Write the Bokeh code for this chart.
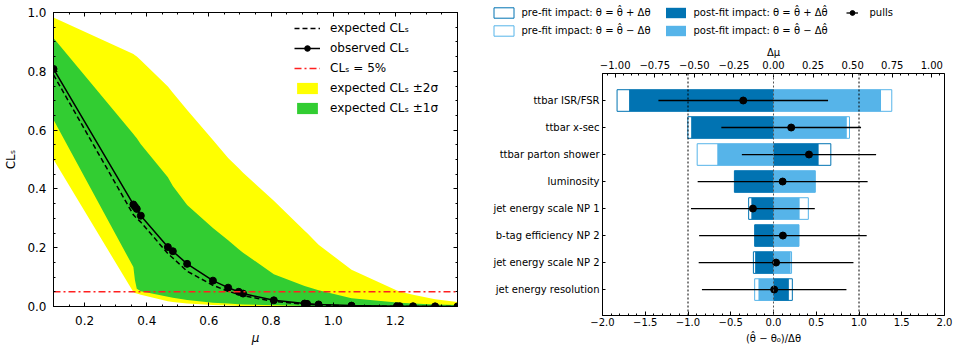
import numpy as np
from bokeh.plotting import figure
from bokeh.models import (Range1d, LinearAxis, FixedTicker, SingleIntervalTicker,
                          CustomJSTickFormatter, Legend, LegendItem, Span)
from bokeh.layouts import row, column
from bokeh.embed import file_html
from bokeh.resources import INLINE

FONT = "DejaVu Sans"

# ---------------- left panel data (CLs scan) ----------------
mu = [0.1, 0.357, 0.362, 0.368, 0.381, 0.468, 0.484, 0.530, 0.613, 0.662, 0.696,
      0.710, 0.809, 0.908, 0.916, 0.953, 1.059, 1.205, 1.214, 1.257, 1.328, 1.4]
observed = [0.808, 0.347, 0.340, 0.332, 0.309, 0.202, 0.188, 0.145, 0.088, 0.064, 0.050,
            0.044, 0.021, 0.010, 0.009, 0.007, 0.003, 0.001, 0.001, 0.001, 0.0005, 0.0003]
expected = [0.788, 0.312, 0.306, 0.300, 0.287, 0.180, 0.165, 0.120, 0.072, 0.052, 0.041,
            0.037, 0.017, 0.008, 0.007, 0.005, 0.002, 0.0005, 0.0005, 0.0003, 0.0002, 0.0001]
exp_plus2 = [0.983, 0.859, 0.855, 0.850, 0.838, 0.748, 0.727, 0.668, 0.566, 0.505, 0.470,
             0.455, 0.360, 0.258, 0.250, 0.210, 0.125, 0.054, 0.051, 0.040, 0.025, 0.015]
exp_plus1 = [0.913, 0.587, 0.580, 0.572, 0.552, 0.440, 0.410, 0.345, 0.267, 0.225, 0.195,
             0.183, 0.110, 0.070, 0.067, 0.055, 0.028, 0.014, 0.013, 0.010, 0.007, 0.005]
exp_minus1 = [0.635, 0.134, 0.090, 0.060, 0.052, 0.033, 0.030, 0.022, 0.013, 0.010, 0.008,
              0.007, 0.004, 0.002, 0.002, 0.0015, 0.001, 0.0, 0.0, 0.0, 0.0, 0.0]
exp_minus2 = [0.500, 0.049, 0.046, 0.044, 0.040, 0.018, 0.015, 0.010, 0.005, 0.003, 0.002,
              0.002, 0.001, 0.0, 0.0, 0.0, 0.0, 0.0, 0.0, 0.0, 0.0, 0.0]
cls_limit = 0.05

# ---------------- right panel data (ranking) ----------------
np_labels = ["ttbar ISR/FSR", "ttbar x-sec", "ttbar parton shower", "luminosity",
             "jet energy scale NP 1", "b-tag efficiency NP 2", "jet energy scale NP 2",
             "jet energy resolution"]
impact_prefit_up = [-0.988, -0.541, 0.362, -0.247, -0.157, -0.119, -0.127, 0.119]
impact_prefit_down = [0.747, 0.480, -0.482, 0.264, 0.220, 0.161, 0.114, -0.119]
impact_postfit_up = [-0.912, -0.520, 0.285, -0.247, -0.140, -0.119, -0.116, 0.097]
impact_postfit_down = [0.679, 0.463, -0.355, 0.264, 0.165, 0.161, 0.108, -0.095]
pulls = [-0.354, 0.207, 0.415, 0.107, -0.241, 0.110, 0.030, 0.008]
pull_errors = [0.992, 0.817, 0.785, 0.994, 0.724, 0.980, 0.905, 0.845]

C_DARK = "#0173b2"
C_LIGHT = "#56b4e9"


def style_axis(ax, size, tick_in=4, minor_in=2):
    ax.major_label_text_font = FONT
    ax.major_label_text_font_size = size
    ax.major_label_text_color = "black"
    ax.axis_label_text_font = FONT
    ax.axis_label_text_font_size = size
    ax.axis_label_text_font_style = "normal"
    ax.axis_label_text_color = "black"
    ax.major_tick_in = tick_in
    ax.major_tick_out = 0
    ax.minor_tick_in = minor_in
    ax.minor_tick_out = 0
    ax.axis_line_color = "black"
    ax.major_tick_line_color = "black"
    ax.minor_tick_line_color = "black"


def no_align(p):
    try:
        p.frame_align = False
    except Exception:
        pass


fmt1 = CustomJSTickFormatter(code="return tick.toFixed(1);")
fmt_blank = CustomJSTickFormatter(code="return '';")

# ======================= left figure =======================
p1 = figure(width=470, height=348, output_backend="svg", toolbar_location=None,
            x_range=Range1d(0.1, 1.4), y_range=Range1d(0, 1),
            min_border_left=53, min_border_right=13, min_border_top=12, min_border_bottom=42)
no_align(p1)
p1.xgrid.visible = False
p1.ygrid.visible = False
p1.outline_line_color = "black"
p1.outline_line_alpha = 1.0
p1.outline_line_width = 1

yellow = p1.varea(x=mu, y1=exp_minus2, y2=exp_plus2, fill_color="#ffff00")
green = p1.varea(x=mu, y1=exp_minus1, y2=exp_plus1, fill_color="#32cd32")
exp_line = p1.line(mu, expected, line_color="black", line_width=1.5, line_dash="5 3")
obs_line = p1.line(mu, observed, line_color="black", line_width=1.5)
obs_pts = p1.scatter(mu, observed, size=7, fill_color="black", line_color="black")
thr_line = p1.line([mu[0], mu[-1]], [cls_limit, cls_limit], line_color="#ff2020",
                   line_width=1.5, line_dash="7 3 2 3")

p1.xaxis.ticker = SingleIntervalTicker(interval=0.2, num_minor_ticks=4)
p1.yaxis.ticker = SingleIntervalTicker(interval=0.2, num_minor_ticks=4)
p1.xaxis.formatter = fmt1
p1.yaxis.formatter = fmt1
style_axis(p1.xaxis[0], "12px")
style_axis(p1.yaxis[0], "12px")
p1.xaxis.axis_label = "μ"
p1.xaxis.axis_label_text_font_style = "italic"
p1.yaxis.axis_label = "CLₛ"
p1.xaxis.major_label_standoff = 9
p1.yaxis.major_label_standoff = 7
p1.xaxis.axis_label_standoff = 3
p1.yaxis.axis_label_standoff = 6

top1 = LinearAxis(ticker=SingleIntervalTicker(interval=0.2, num_minor_ticks=4), formatter=fmt_blank)
right1 = LinearAxis(ticker=SingleIntervalTicker(interval=0.2, num_minor_ticks=4), formatter=fmt_blank)
for ax in (top1, right1):
    style_axis(ax, "12px")
    ax.major_label_standoff = 0
p1.add_layout(top1, "above")
p1.add_layout(right1, "right")

leg1 = Legend(items=[
    LegendItem(label="expected CLₛ", renderers=[exp_line]),
    LegendItem(label="observed CLₛ", renderers=[obs_line, obs_pts]),
    LegendItem(label="CLₛ = 5%", renderers=[thr_line]),
    LegendItem(label="expected CLₛ ±2σ", renderers=[yellow]),
    LegendItem(label="expected CLₛ ±1σ", renderers=[green]),
], location=(241, 191))
leg1.border_line_color = None
leg1.background_fill_alpha = 0
leg1.padding = 0
leg1.margin = 0
leg1.spacing = 6
leg1.glyph_width = 26
leg1.glyph_height = 14
leg1.label_height = 14
leg1.label_standoff = 10
leg1.label_text_font = FONT
leg1.label_text_font_size = "12px"
leg1.label_text_color = "black"
p1.add_layout(leg1)

# ======================= right figure =======================
LEG_H = 40
p2 = figure(width=486, height=348 - LEG_H, output_backend="svg", toolbar_location=None,
            x_range=Range1d(-2, 2), y_range=Range1d(7.96, -1.0),
            min_border_left=132, min_border_right=12, min_border_top=73 - LEG_H,
            min_border_bottom=33)
no_align(p2)
p2.extra_x_ranges = {"impact": Range1d(-1.08, 1.08)}
p2.xgrid.visible = False
p2.ygrid.visible = False
p2.outline_line_color = "black"
p2.outline_line_alpha = 1.0
p2.outline_line_width = 1

ypos = list(range(len(np_labels)))
pa = np.array(pulls)
pe = np.array(pull_errors)


def draw_ranking(p, xr):
    r_pre_up = p.hbar(y=ypos, left=0, right=impact_prefit_up, height=0.8, fill_color=None,
                      line_color=C_DARK, line_width=1, **xr)
    r_pre_down = p.hbar(y=ypos, left=0, right=impact_prefit_down, height=0.8, fill_color=None,
                        line_color=C_LIGHT, line_width=1, **xr)
    r_post_up = p.hbar(y=ypos, left=0, right=impact_postfit_up, height=0.8, fill_color=C_DARK,
                       line_color=None, **xr)
    r_post_down = p.hbar(y=ypos, left=0, right=impact_postfit_down, height=0.8,
                         fill_color=C_LIGHT, line_color=None, **xr)
    r_err = p.segment(x0=pa - pe, x1=pa + pe, y0=ypos, y1=ypos, line_color="black",
                      line_width=1.3)
    r_pts = p.scatter(pulls, ypos, size=7, fill_color="black", line_color="black")
    return r_pre_up, r_pre_down, r_post_up, r_post_down, r_err, r_pts


draw_ranking(p2, {"x_range_name": "impact"})

for loc, col in ((-1, "black"), (0, "#555555"), (1, "black")):
    p2.add_layout(Span(location=loc, dimension="height", line_color=col,
                       line_dash="2 2", line_width=1))

fmt_minus1 = CustomJSTickFormatter(
    code=r"var v = Math.abs(tick) < 1e-9 ? 0 : tick; return v.toFixed(1).replace('-', '\u2212');")
fmt_minus2 = CustomJSTickFormatter(
    code=r"var v = Math.abs(tick) < 1e-9 ? 0 : tick; return v.toFixed(2).replace('-', '\u2212');")

p2.xaxis.ticker = FixedTicker(ticks=list(np.arange(-2.0, 2.01, 0.5)),
                              minor_ticks=list(np.arange(-2.0, 2.01, 0.1)))
p2.xaxis.formatter = fmt_minus1
style_axis(p2.xaxis[0], "10px", tick_in=4, minor_in=2)
p2.xaxis.axis_label = "(θ̂ − θ₀)/Δθ"
p2.xaxis.major_label_standoff = 2
p2.xaxis.axis_label_standoff = 4

p2.yaxis.ticker = FixedTicker(ticks=ypos)
p2.yaxis.major_label_overrides = {i: lab for i, lab in enumerate(np_labels)}
style_axis(p2.yaxis[0], "10px", tick_in=3, minor_in=0)
p2.yaxis.major_label_standoff = 3

top2 = LinearAxis(x_range_name="impact",
                  ticker=FixedTicker(ticks=list(np.arange(-1.0, 1.01, 0.25)),
                                     minor_ticks=list(np.arange(-1.05, 1.06, 0.05))),
                  formatter=fmt_minus2, axis_label="Δμ")
style_axis(top2, "10px", tick_in=4, minor_in=2)
top2.major_label_standoff = 5
top2.axis_label_standoff = 0
p2.add_layout(top2, "above")

# ---------------- legend strip above the ranking plot ----------------
# the same glyph styles, drawn in a strip whose ranges show none of the marks,
# so that only its legend is visible
pleg = figure(width=486, height=LEG_H, output_backend="svg", toolbar_location=None,
              x_range=Range1d(-2, 2), y_range=Range1d(100, 101),
              x_axis_type=None, y_axis_type=None,
              min_border_left=0, min_border_right=0, min_border_top=0, min_border_bottom=0)
no_align(pleg)
pleg.xgrid.visible = False
pleg.ygrid.visible = False
pleg.outline_line_color = None
lg_pre_up, lg_pre_down, lg_post_up, lg_post_down, lg_err, lg_pts = draw_ranking(pleg, {})


def make_legend(items, loc, gw, standoff):
    lg = Legend(items=items, location=loc)
    lg.border_line_color = None
    lg.background_fill_alpha = 0
    lg.padding = 0
    lg.margin = 0
    lg.spacing = 5
    lg.glyph_width = gw
    lg.glyph_height = 13
    lg.label_height = 13
    lg.label_standoff = standoff
    lg.label_text_font = FONT
    lg.label_text_font_size = "10px"
    lg.label_text_color = "black"
    return lg


legA = make_legend([
    LegendItem(label="pre-fit impact: θ = θ̂ + Δθ", renderers=[lg_pre_up]),
    LegendItem(label="pre-fit impact: θ = θ̂ − Δθ", renderers=[lg_pre_down]),
], (20.5, LEG_H - 36.5), 25, 6)
legB = make_legend([
    LegendItem(label="post-fit impact: θ = θ̂ + Δθ̂", renderers=[lg_post_up]),
    LegendItem(label="post-fit impact: θ = θ̂ − Δθ̂", renderers=[lg_post_down]),
], (192.5, LEG_H - 36.5), 25, 6)
legC = make_legend([
    LegendItem(label="pulls", renderers=[lg_err, lg_pts]),
], (375.5, LEG_H - 18.5), 12, 12)
for lg in (legA, legB, legC):
    pleg.add_layout(lg)

layout = row(p1, column(pleg, p2))
open("out.html", "w").write(file_html(layout, INLINE))
